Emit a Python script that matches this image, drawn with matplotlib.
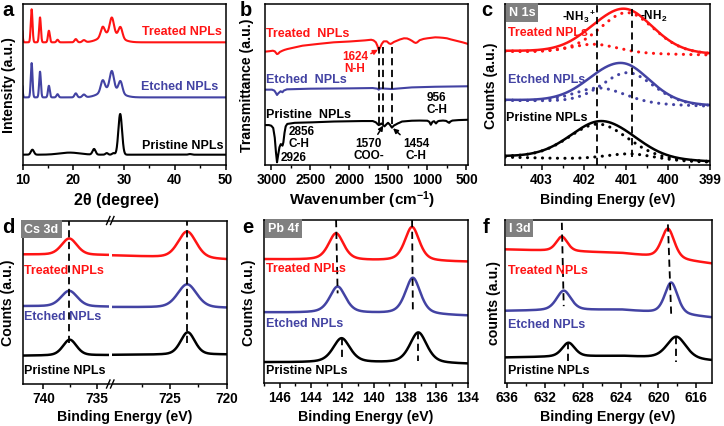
import numpy as np
import matplotlib
matplotlib.use("Agg")
import matplotlib.pyplot as plt
from matplotlib.lines import Line2D
from matplotlib.ticker import MultipleLocator, FixedLocator

plt.rcParams['font.family'] = ['Liberation Sans', 'DejaVu Sans']
plt.rcParams['font.weight'] = 'bold'
plt.rcParams['mathtext.fontset'] = 'custom'
plt.rcParams['mathtext.rm'] = 'Liberation Sans:bold'
plt.rcParams['mathtext.bf'] = 'Liberation Sans:bold'
plt.rcParams['mathtext.it'] = 'Liberation Sans:bold'
plt.rcParams['axes.linewidth'] = 1.1

# ------------------------------------------------------------------ data
samples = ['Treated NPLs', 'Etched NPLs', 'Pristine NPLs']

# (a) XRD: peak positions (deg), heights, sigmas (deg), baseline level
xrd_treated_pos = [9.75, 11.8, 13.45, 15.2, 16.9, 20.5, 22.1, 25.8, 27.6, 29.3, 27.3]
xrd_treated_h = [0.20, 0.205, 0.155, 0.072, 0.016, 0.02, 0.013, 0.058, 0.10, 0.066, 0.055]
xrd_treated_sig = [0.17, 0.17, 0.17, 0.18, 0.2, 0.25, 0.3, 0.38, 0.4, 0.38, 1.8]
xrd_treated_base = 0.762
xrd_etched_pos = [9.75, 11.8, 13.45, 15.2, 16.9, 20.5, 22.1, 25.8, 27.6, 29.3, 27.3]
xrd_etched_h = [0.20, 0.213, 0.16, 0.072, 0.02, 0.025, 0.017, 0.068, 0.11, 0.072, 0.055]
xrd_etched_sig = [0.17, 0.17, 0.17, 0.18, 0.2, 0.25, 0.3, 0.38, 0.4, 0.38, 1.8]
xrd_etched_base = 0.42
xrd_pristine_pos = [11.95, 19.3, 24.1, 26.6, 27.9, 29.25, 43.0]
xrd_pristine_h = [0.031, 0.013, 0.035, 0.01, 0.01, 0.253, 0.004]
xrd_pristine_sig = [0.3, 2.0, 0.3, 0.25, 0.25, 0.36, 0.3]
xrd_pristine_base = 0.064

# (b) FTIR: wavenumber (cm-1) and transmittance (a.u.)
ftir_treated_wn = [3080, 3020, 2980, 2955, 2940, 2926, 2910, 2890, 2856, 2830, 2795, 2600, 2400,
                   2200, 2000, 1800, 1720, 1690, 1660, 1640, 1624, 1605, 1585, 1560, 1520, 1490,
                   1470, 1454, 1430, 1400, 1350, 1300, 1260, 1230, 1200, 1170, 1150, 1130, 1100,
                   1050, 1000, 950, 900, 850, 800, 750, 700, 650, 600, 550, 480]
ftir_treated_t = [0.704, 0.707, 0.71, 0.706, 0.697, 0.689, 0.692, 0.702, 0.71, 0.715, 0.72, 0.741,
                  0.752, 0.762, 0.767, 0.774, 0.778, 0.774, 0.762, 0.74, 0.714, 0.73, 0.752, 0.768,
                  0.768, 0.755, 0.752, 0.756, 0.764, 0.77, 0.78, 0.787, 0.786, 0.78, 0.772, 0.762,
                  0.758, 0.762, 0.775, 0.783, 0.787, 0.79, 0.793, 0.792, 0.79, 0.787, 0.78, 0.774,
                  0.768, 0.762, 0.752]
ftir_etched_wn = [3080, 2990, 2960, 2940, 2926, 2910, 2880, 2856, 2840, 2800, 2500, 2000, 1700,
                  1640, 1624, 1600, 1454, 1200, 900, 480]
ftir_etched_t = [0.468, 0.468, 0.462, 0.447, 0.435, 0.445, 0.458, 0.452, 0.462, 0.47, 0.474, 0.476,
                 0.478, 0.474, 0.468, 0.476, 0.472, 0.482, 0.486, 0.489]
ftir_pristine_wn = [3080, 3030, 3000, 2975, 2955, 2940, 2926, 2912, 2895, 2878, 2865, 2856, 2845,
                    2830, 2815, 2795, 2700, 2476, 2200, 1837, 1700, 1660, 1640, 1624, 1605, 1590,
                    1570, 1550, 1520, 1504, 1480, 1454, 1430, 1402, 1380, 1360, 1325, 1200, 1100,
                    1000, 975, 956, 935, 915, 890, 870, 850, 800, 760, 730, 720, 705, 680, 600, 480]
ftir_pristine_t = [0.248, 0.248, 0.244, 0.23, 0.17, 0.08, 0.017, 0.06, 0.11, 0.13, 0.125, 0.12,
                   0.14, 0.2, 0.24, 0.255, 0.262, 0.265, 0.27, 0.273, 0.273, 0.265, 0.255, 0.248,
                   0.252, 0.258, 0.25, 0.24, 0.255, 0.262, 0.25, 0.232, 0.245, 0.252, 0.258, 0.262,
                   0.27, 0.275, 0.276, 0.275, 0.268, 0.25, 0.268, 0.272, 0.258, 0.27, 0.274, 0.276,
                   0.274, 0.264, 0.262, 0.27, 0.276, 0.279, 0.281]
ftir_marks = [1624, 1570, 1454]

# (c) N 1s: [treated, etched, pristine]
n1s_nh3_pos = [401.75, 401.62, 401.65]
n1s_nh3_h = [0.055, 0.095, 0.22]
n1s_nh3_fwhm = [1.35, 1.45, 1.7]
n1s_nh2_pos = [400.97, 400.95, 400.9]
n1s_nh2_h = [0.255, 0.195, 0.04]
n1s_nh2_fwhm = [1.55, 1.45, 1.4]
n1s_bg_high = [0.704, 0.40, 0.048]   # background at high-BE end
n1s_bg_low = [0.683, 0.364, 0.017]   # background at low-BE end
n1s_marks = [401.68, 400.85]

# (d) Cs 3d: peak positions [3d3/2, 3d5/2], heights, fwhm, background (high, mid, low)
cs_pos = [[737.6, 723.5], [737.6, 723.5], [737.55, 723.45]]
cs_h = [[0.10, 0.163], [0.096, 0.143], [0.096, 0.137]]
cs_fwhm = [[1.7, 1.9], [1.8, 2.0], [1.5, 1.5]]
cs_bg = [[0.792, 0.786, 0.761], [0.476, 0.47, 0.465], [0.173, 0.178, 0.18]]

# (e) Pb 4f
pb_pos = [[142.4, 137.55], [142.3, 137.5], [142.05, 137.15]]
pb_h = [[0.165, 0.21], [0.163, 0.225], [0.15, 0.19]]
pb_fwhm = [[1.15, 1.1], [1.2, 1.15], [1.3, 1.3]]
pb_bg = [[0.759, 0.749, 0.743], [0.433, 0.425, 0.412], [0.127, 0.122, 0.116]]

# (f) I 3d
i_pos = [[630.2, 619.0], [630.0, 618.65], [629.5, 618.1]]
i_h = [[0.089, 0.183], [0.12, 0.193], [0.085, 0.136]]
i_fwhm = [[1.4, 1.6], [1.8, 1.6], [1.6, 2.4]]
i_bg = [[0.817, 0.795, 0.73], [0.441, 0.448, 0.40], [0.156, 0.165, 0.136]]

# ------------------------------------------------------------------ helpers
COLORS = ['#FF1414', '#4343A3', '#000000']
W, H = 724, 427
fig = plt.figure(figsize=(W / 100, H / 100), dpi=100)


def add_ax(l, t, r, b):
    return fig.add_axes([l / W, 1 - b / H, (r - l) / W, (b - t) / H])


def ftext(x, y, s, **kw):
    kw.setdefault('va', 'center')
    return fig.text(x / W, 1 - y / H, s, **kw)


def gauss(x, c, h, s):
    return h * np.exp(-0.5 * ((x - c) / s) ** 2)


def pv(x, c, h, fwhm, eta=0.35):
    g = np.exp(-4 * np.log(2) * ((x - c) / fwhm) ** 2)
    lz = 1.0 / (1 + 4 * ((x - c) / fwhm) ** 2)
    return h * (eta * lz + (1 - eta) * g)


def style(ax, major, minor):
    ax.set_ylim(0, 1)
    ax.set_yticks([])
    ax.xaxis.set_major_locator(MultipleLocator(major))
    ax.xaxis.set_minor_locator(MultipleLocator(minor))
    ax.tick_params(axis='x', which='major', direction='out', length=3.5, width=1.1,
                   labelsize=9.8, pad=1.5)
    ax.tick_params(axis='x', which='minor', direction='out', length=2, width=1.0)


def gray_box(ax, s):
    ax.text(0.018, 0.985, s, transform=ax.transAxes, ha='left', va='top', color='white',
            fontsize=9, bbox=dict(boxstyle='square,pad=0.25', fc='#808080', ec='none'),
            zorder=5)


LAB = 9
AX = 10.2
DOT = dict(lw=2.2, ls=(0, (0.05, 2.4)), dash_capstyle='round')

# ------------------------------------------------------------------ (a) XRD
ax = add_ax(22.5, 5, 225.5, 166)
x = np.linspace(10, 50, 2000)
for pos, hh, sg, base, c in [
        (xrd_treated_pos, xrd_treated_h, xrd_treated_sig, xrd_treated_base, COLORS[0]),
        (xrd_etched_pos, xrd_etched_h, xrd_etched_sig, xrd_etched_base, COLORS[1]),
        (xrd_pristine_pos, xrd_pristine_h, xrd_pristine_sig, xrd_pristine_base, COLORS[2])]:
    y = np.full_like(x, base)
    for p, h_, s_ in zip(pos, hh, sg):
        y += gauss(x, p, h_, s_)
    ax.plot(x, y, color=c, lw=1.5)
ax.set_xlim(10, 50)
style(ax, 10, 5)
ftext(222.3, 32.3, samples[0], ha='right', color=COLORS[0], fontsize=LAB)
ftext(218.3, 87.3, samples[1], ha='right', color=COLORS[1], fontsize=LAB)
ftext(223.3, 145.7, samples[2], ha='right', color=COLORS[2], fontsize=LAB)
ftext(117, 200, '2θ (degree)', ha='center', fontsize=11.5)
ftext(9, 85.5, 'Intensity (a.u.)', ha='center', rotation=90, fontsize=AX)
ftext(2, 10, 'a', ha='left', fontsize=14.5)

# ------------------------------------------------------------------ (b) FTIR
ax = add_ax(265, 5, 468, 166)
ax.plot(ftir_treated_wn, ftir_treated_t, color=COLORS[0], lw=1.5)
ax.plot(ftir_etched_wn, ftir_etched_t, color=COLORS[1], lw=1.5)
ax.plot(ftir_pristine_wn, ftir_pristine_t, color=COLORS[2], lw=1.5)
for wn in ftir_marks:
    ax.plot([wn, wn], [0.255, 0.735], color='black', lw=1.3, ls=(0, (4, 2.5)))
ax.set_xlim(3080, 480)
style(ax, 500, 250)
ap = dict(arrowstyle='-|>', lw=1.1, mutation_scale=7, shrinkA=0, shrinkB=0)
ax.annotate('1624\nN-H', xy=(1634, 0.716), xytext=(1926, 0.638), ha='center', va='center',
            color=COLORS[0], fontsize=8.5, linespacing=1.0,
            arrowprops=dict(ap, color=COLORS[0]))
ax.annotate('1570\nCOO-', xy=(1566, 0.245), xytext=(1753, 0.099), ha='center', va='center',
            fontsize=8.5, linespacing=1.0, arrowprops=dict(ap, color='black'))
ax.annotate('1454\nC-H', xy=(1440, 0.228), xytext=(1146, 0.099), ha='center', va='center',
            fontsize=8.5, linespacing=1.0, arrowprops=dict(ap, color='black'))
ax.text(2774, 0.177, '2856\nC-H', ha='left', va='center', fontsize=8.5, linespacing=1.0)
ax.text(2885, 0.048, '2926', ha='left', va='center', fontsize=8.5)
ax.text(881, 0.384, '956\nC-H', ha='center', va='center', fontsize=8.5, linespacing=1.0)
ftext(265.5, 34.3, 'Treated  NPLs', ha='left', color=COLORS[0], fontsize=LAB)
ftext(265.5, 80, 'Etched  NPLs', ha='left', color=COLORS[1], fontsize=LAB)
ftext(265.5, 115, 'Pristine  NPLs', ha='left', color=COLORS[2], fontsize=LAB)
ftext(362, 200, 'Wavenumber (cm$^{-1}$)', ha='center', fontsize=11)
ftext(247, 85.5, 'Transmittance (a.u.)', ha='center', rotation=90, fontsize=AX)
ftext(240, 10, 'b', ha='left', fontsize=14.5)

# ------------------------------------------------------------------ (c) N 1s
ax = add_ax(505, 5, 710, 166)
xl, xr = 403.87, 399.0
x = np.linspace(xl, xr, 800)
for i in range(3):
    bg = np.interp(x, [xr, xl], [n1s_bg_low[i], n1s_bg_high[i]])
    c1 = pv(x, n1s_nh3_pos[i], n1s_nh3_h[i], n1s_nh3_fwhm[i], 0.25)
    c2 = pv(x, n1s_nh2_pos[i], n1s_nh2_h[i], n1s_nh2_fwhm[i], 0.25)
    ax.plot(x, bg + c1, color=COLORS[i], **DOT)
    ax.plot(x, bg + c2, color=COLORS[i], **DOT)
    ax.plot(x, bg + c1 + c2, color=COLORS[i], lw=1.8)
ax.plot([n1s_marks[0]] * 2, [0.0, 1.0], color='black', lw=1.3, ls=(0, (4, 2.5)))
ax.plot([n1s_marks[1]] * 2, [0.05, 1.0], color='black', lw=1.3, ls=(0, (4, 2.5)))
ax.set_xlim(xl, xr)
style(ax, 1, 0.5)
gray_box(ax, 'N 1s')
ax.text(402.1, 0.93, '-NH$_3$$^+$', ha='center', va='center', fontsize=8.5)
ax.text(400.33, 0.93, '-NH$_2$', ha='center', va='center', fontsize=8.5)
ftext(508, 33.3, samples[0], ha='left', color=COLORS[0], fontsize=LAB)
ftext(508, 80, samples[1], ha='left', color=COLORS[1], fontsize=LAB)
ftext(506, 118.3, samples[2], ha='left', color=COLORS[2], fontsize=LAB)
ftext(607.5, 200, 'Binding Energy (eV)', ha='center', fontsize=AX)
ftext(491, 85.5, 'Counts (a.u.)', ha='center', rotation=90, fontsize=AX)
ftext(481, 10, 'c', ha='left', fontsize=14.5)


def xps_curve(x, pos, hh, fw, bg3, xl, xm, xr, eta):
    y = np.interp(x, [xr, xm, xl], [bg3[2], bg3[1], bg3[0]])
    for p, h_, f_ in zip(pos, hh, fw):
        y = y + pv(x, p, h_, f_, eta)
    return y


# ------------------------------------------------------------------ (d) Cs 3d (broken axis)
axL = add_ax(22.7, 221.5, 109.5, 385)
axR = add_ax(111.5, 221.5, 226.7, 385)
dl, dbl, dbr, dr = 741.93, 733.85, 730.2, 720.0
for a_, lo, hi in [(axL, dl, dbl), (axR, dbr, dr)]:
    x = np.linspace(lo, hi, 600)
    for i in range(3):
        y = xps_curve(x, cs_pos[i], cs_h[i], cs_fwhm[i], cs_bg[i], dl, 730.0, dr, 0.3)
        a_.plot(x, y, color=COLORS[i], lw=1.8)
    for p in cs_pos[0]:
        if hi < p < lo:
            a_.plot([p, p], [0.25, 1.0], color='black', lw=1.3, ls=(0, (4, 2.5)))
    a_.set_xlim(lo, hi)
    style(a_, 5, 2.5)
axL.spines['right'].set_visible(False)
axR.spines['left'].set_visible(False)
axL.xaxis.set_major_locator(FixedLocator([740, 735]))
axL.xaxis.set_minor_locator(FixedLocator([737.5]))
axR.xaxis.set_major_locator(FixedLocator([725, 720]))
axR.xaxis.set_minor_locator(FixedLocator([727.5, 722.5]))
for yb in (221.5, 385):
    for x0 in (106.5, 110.5):
        fig.add_artist(Line2D([x0 / W, (x0 + 3.5) / W], [1 - (yb + 4) / H, 1 - (yb - 4) / H],
                              color='black', lw=1.0))
gray_box(axL, 'Cs 3d')
ftext(24, 270.7, samples[0], ha='left', color=COLORS[0], fontsize=LAB)
ftext(24, 316.7, samples[1], ha='left', color=COLORS[1], fontsize=LAB)
ftext(24, 371, samples[2], ha='left', color=COLORS[2], fontsize=LAB)
ftext(124.7, 417, 'Binding Energy (eV)', ha='center', fontsize=AX)
ftext(8, 303, 'Counts (a.u.)', ha='center', rotation=90, fontsize=AX)
ftext(2, 228, 'd', ha='left', fontsize=14.5)

# ------------------------------------------------------------------ (e) Pb 4f
ax = add_ax(264, 221, 467.7, 384)
el, er = 147.0, 134.0
x = np.linspace(el, er, 1200)
for i in range(3):
    ax.plot(x, xps_curve(x, pb_pos[i], pb_h[i], pb_fwhm[i], pb_bg[i], el, 140.0, er, 0.5),
            color=COLORS[i], lw=1.8)
ds = (0, (4, 2.5))
ax.plot([pb_pos[0][0], pb_pos[1][0]], [1.0, 0.55], color='black', lw=1.3, ls=ds)
ax.plot([pb_pos[0][1], pb_pos[1][1]], [1.0, 0.45], color='black', lw=1.3, ls=ds)
ax.plot([pb_pos[2][0]] * 2, [0.275, 0.137], color='black', lw=1.3, ls=ds)
ax.plot([pb_pos[2][1]] * 2, [0.31, 0.137], color='black', lw=1.3, ls=ds)
ax.set_xlim(el, er)
style(ax, 2, 1)
gray_box(ax, 'Pb 4f')
ftext(265.5, 269.3, samples[0], ha='left', color=COLORS[0], fontsize=LAB)
ftext(265.5, 324, samples[1], ha='left', color=COLORS[1], fontsize=LAB)
ftext(265.5, 371, samples[2], ha='left', color=COLORS[2], fontsize=LAB)
ftext(366, 417, 'Binding Energy (eV)', ha='center', fontsize=AX)
ftext(249, 303, 'Counts (a.u.)', ha='center', rotation=90, fontsize=AX)
ftext(242, 228, 'e', ha='left', fontsize=14.5)

# ------------------------------------------------------------------ (f) I 3d
ax = add_ax(505, 220.5, 711.5, 384)
fl, fr = 636.2, 614.4
x = np.linspace(fl, fr, 1200)
for i in range(3):
    ax.plot(x, xps_curve(x, i_pos[i], i_h[i], i_fwhm[i], i_bg[i], fl, 624.0, fr, 0.4),
            color=COLORS[i], lw=1.8)
ax.plot([i_pos[0][0], i_pos[1][0]], [0.98, 0.47], color='black', lw=1.3, ls=ds)
ax.plot([i_pos[0][1], i_pos[1][1]], [0.97, 0.41], color='black', lw=1.3, ls=ds)
ax.plot([i_pos[2][0]] * 2, [0.25, 0.126], color='black', lw=1.3, ls=ds)
ax.plot([i_pos[2][1]] * 2, [0.28, 0.126], color='black', lw=1.3, ls=ds)
ax.set_xlim(fl, fr)
style(ax, 4, 2)
gray_box(ax, 'I 3d')
ftext(508.3, 271, samples[0], ha='left', color=COLORS[0], fontsize=LAB)
ftext(508.3, 325, samples[1], ha='left', color=COLORS[1], fontsize=LAB)
ftext(508.3, 371, samples[2], ha='left', color=COLORS[2], fontsize=LAB)
ftext(608, 417, 'Binding Energy (eV)', ha='center', fontsize=AX)
ftext(494, 303, 'counts (a.u.)', ha='center', rotation=90, fontsize=AX)
ftext(483, 228, 'f', ha='left', fontsize=14.5)

fig.savefig('out.png', dpi=100)
